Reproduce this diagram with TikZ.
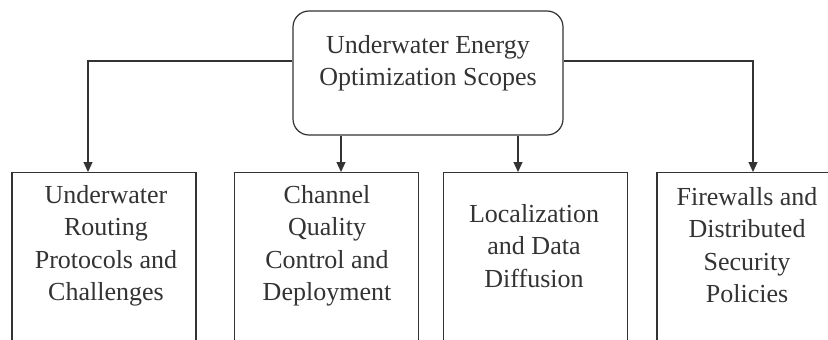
\documentclass[tikz,border=0pt]{standalone}
\usepackage{fontspec}
\setmainfont{Liberation Serif}
\usetikzlibrary{arrows.meta}
\definecolor{ink}{HTML}{333333}
\begin{document}
\begin{tikzpicture}[x=1pt,y=-1pt,
  line width=1.2pt,
  topbox/.style={draw=ink, rounded corners=16pt, minimum width=270pt, minimum height=124pt, inner sep=0pt},
  leafbox/.style={draw=ink, minimum width=184pt, minimum height=220pt, anchor=north, inner sep=0pt},
  lbl/.style={text=ink, align=center, font=\fontsize{26}{32.5}\selectfont, inner sep=0pt},
  arr/.style={draw=ink, -{Triangle[width=9pt,length=10pt]}}]
\path[use as bounding box, clip] (0,0) rectangle (828,340);
\fill[white] (0,0) rectangle (828,340);
% top node
\node[topbox] (top) at (428,73) {};
\node[lbl] (toptext) at (428,63) {Underwater Energy\\Optimization Scopes};
% leaf boxes
\node[leafbox] (b1) at (104,172) {};
\node[leafbox] (b2) at (326.5,172) {};
\node[leafbox] (b3) at (535.5,172) {};
\node[leafbox] (b4) at (749,172) {};
\node[lbl] (t1) at (106,246) {Underwater\\Routing\\Protocols and\\Challenges};
\node[lbl] (t2) at (327,246) {Channel\\Quality\\Control and\\Deployment};
\node[lbl] (t3) at (534,246) {Localization\\and Data\\Diffusion};
\node[lbl] (t4) at (747,245) {Firewalls and\\Distributed\\Security\\Policies};
% arrow end points on the box tops
\coordinate (a1) at ([xshift=-16pt]b1.north);
\coordinate (a2) at ([xshift=14.5pt]b2.north);
\coordinate (a3) at ([xshift=-17.5pt]b3.north);
\coordinate (a4) at ([xshift=4pt]b4.north);
% connectors
\draw[arr] ([yshift=12pt]top.west) -| (a1);
\draw[arr] (top.south -| a2) -- (a2);
\draw[arr] (top.south -| a3) -- (a3);
\draw[arr] ([yshift=12pt]top.east) -| (a4);
\end{tikzpicture}
\end{document}
